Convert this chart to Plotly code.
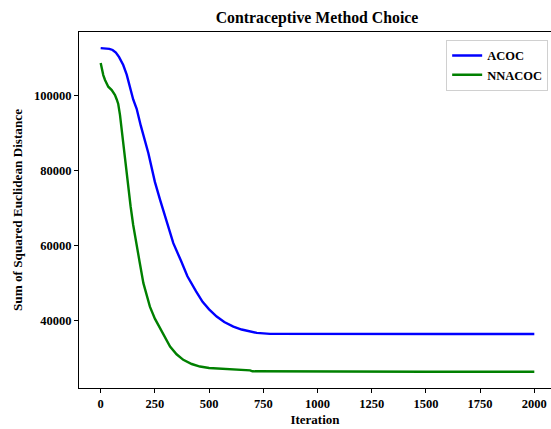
import plotly.graph_objects as go

# Convergence curves: best objective value found so far at each iteration
acoc_iter = [0, 20, 40, 55, 70, 85, 104, 120, 135, 150, 166, 185, 220, 250, 274,
             286, 300, 335, 370, 400, 440, 470, 500, 535, 570, 612, 650, 689,
             720, 781, 900, 1200, 1600, 2000]
acoc_val = [112700, 112600, 112500, 112200, 111500, 110300, 108200, 105600, 102500,
            99000, 96500, 92000, 84650, 77000, 72190, 69980, 67000, 60640, 56000,
            51800, 47800, 45000, 43000, 41070, 39600, 38400, 37600, 37000, 36700,
            36450, 36420, 36400, 36400, 36400]

nnacoc_iter = [0, 5, 12, 20, 35, 51, 60, 66, 74, 81, 89, 104, 120, 130, 138, 150,
               166, 180, 197, 210, 227, 250, 274, 300, 320, 350, 381, 420, 458,
               500, 535, 600, 689, 700, 1000, 1500, 2000]
nnacoc_val = [108700, 106900, 105500, 104200, 102400, 101500, 100900, 100200, 99000,
              97800, 94900, 87000, 79500, 74500, 70500, 65500, 60640, 55500, 49970,
              47000, 43700, 40500, 37970, 35200, 33070, 31000, 29520, 28400, 27730,
              27350, 27200, 26900, 26700, 26450, 26350, 26330, 26320]

x_ticks = [0, 250, 500, 750, 1000, 1250, 1500, 1750, 2000]
y_ticks = [40000, 60000, 80000, 100000]

FONT = "Liberation Serif"
W, H = 551, 429
ML, MR, MT, MB = 79, 0, 32, 41

fig = go.Figure()
fig.add_trace(go.Scatter(x=acoc_iter, y=acoc_val, mode="lines", name="<b>ACOC</b>",
                         line=dict(color="#0000ff", width=2.4)))
fig.add_trace(go.Scatter(x=nnacoc_iter, y=nnacoc_val, mode="lines", name="<b>NNACOC</b>",
                         line=dict(color="#008000", width=2.4)))

axis_common = dict(showgrid=False, zeroline=False, showline=True, linecolor="black",
                   linewidth=1, ticks="outside", ticklen=4, tickcolor="black",
                   tickfont=dict(family=FONT, size=12.5, color="black"))

fig.update_xaxes(range=[-100, 2077], tickvals=x_ticks,
                 ticktext=[f"<b>{t}</b>" for t in x_ticks], mirror=True,
                 title=dict(text="<b>Iteration</b>", standoff=4,
                            font=dict(family=FONT, size=13, color="black")),
                 **axis_common)
fig.update_yaxes(range=[22000, 117000], tickvals=y_ticks,
                 ticktext=[f"<b>{t}</b>" for t in y_ticks], mirror=False,
                 title=dict(text="<b>Sum of Squared Euclidean Distance</b>", standoff=8,
                            font=dict(family=FONT, size=13.2, color="black")),
                 **axis_common)

fig.update_layout(
    width=W, height=H,
    margin=dict(l=ML, r=MR, t=MT, b=MB),
    plot_bgcolor="white", paper_bgcolor="white",
    font=dict(family=FONT, color="black"),
    title=dict(text="<b>Contraceptive Method Choice</b>", x=317 / W, xanchor="center",
               xref="container", y=1 - 17 / H, yanchor="middle", yref="container",
               font=dict(family=FONT, size=15.8, color="black")),
    legend=dict(x=0.994, y=0.978, xanchor="right", yanchor="top",
                bgcolor="white", bordercolor="#d0d0d0", borderwidth=1,
                font=dict(family=FONT, size=12.5, color="black"),
                tracegroupgap=0, itemwidth=30),
    showlegend=True,
)

fig.write_html("out.html")
